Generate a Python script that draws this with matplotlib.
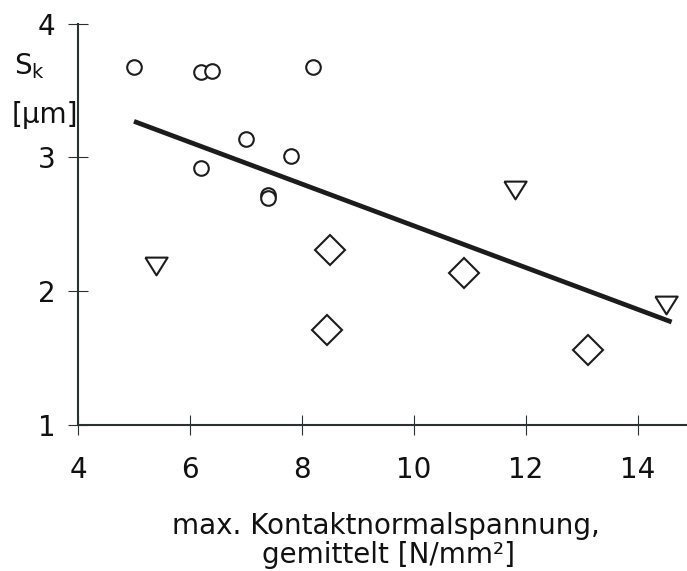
import matplotlib
matplotlib.use("Agg")
import matplotlib.pyplot as plt

plt.rcParams["font.family"] = ["DejaVu Sans"]
plt.rcParams["mathtext.default"] = "regular"

# Measurement groups
circle_x = [5.0, 6.2, 6.4, 8.2, 7.0, 7.8, 6.2, 7.4, 7.4]
circle_y = [3.68, 3.64, 3.65, 3.68, 3.14, 3.01, 2.92, 2.72, 2.70]

triangle_x = [5.4, 11.8, 14.5]
triangle_y = [2.19, 2.76, 1.90]

diamond_x = [8.5, 8.45, 10.9, 13.1]
diamond_y = [2.31, 1.71, 2.14, 1.56]

# Regression line over all points
trend_x = [5.0, 14.6]
trend_y = [3.27, 1.77]

x_ticks = [4, 6, 8, 10, 12, 14]
y_ticks = [1, 2, 3, 4]

W, H = 687, 571
fig = plt.figure(figsize=(W / 100, H / 100), dpi=100)
ax = fig.add_axes([78 / W, (H - 425) / H, (W - 78) / W, (425 - 23.7) / H])
ax.set_xlim(4, 4 + (W - 78) / 56)
ax.set_ylim(1, 4)

ink = "#1c1c1c"
ax.plot(trend_x, trend_y, color=ink, lw=3.4, solid_capstyle="butt", zorder=2)
ax.plot(circle_x, circle_y, ls="none", marker="o", ms=10.5, mfc="white",
        mec=ink, mew=1.5, zorder=3)
tri = [(-1, 0.8), (1, 0.8), (0, -0.8), (-1, 0.8)]
ax.plot(triangle_x, triangle_y, ls="none", marker=tri, ms=16, mfc="white",
        mec=ink, mew=1.5, zorder=3)
ax.plot(diamond_x, diamond_y, ls="none", marker="D", ms=15, mfc="white",
        mec=ink, mew=1.5, zorder=3)

for s in ("top", "right"):
    ax.spines[s].set_visible(False)
for s in ("left", "bottom"):
    ax.spines[s].set_color("#2b3033")
    ax.spines[s].set_linewidth(1.5)

ax.set_xticks(x_ticks)
ax.set_yticks(y_ticks)
ax.tick_params(direction="inout", length=14.4, width=0.8, color="#2b3033",
               labelsize=20, labelcolor="#111111")
ax.tick_params(axis="y", pad=9)
ax.tick_params(axis="x", pad=15)

fig.text(14 / W, 1 - 66 / H, "S$_{k}$", fontsize=20, ha="left", va="center",
         color="#111111")
fig.text(12 / W, 1 - 115 / H, "[µm]", fontsize=20, ha="left", va="center",
         color="#111111")

fig.text(386 / W, 1 - 534 / H, "max. Kontaktnormalspannung,", fontsize=20,
         ha="center", va="baseline", color="#111111")
fig.text(388 / W, 1 - 563 / H, "gemittelt [N/mm²]", fontsize=20,
         ha="center", va="baseline", color="#111111")

fig.savefig("out.png", dpi=100)
